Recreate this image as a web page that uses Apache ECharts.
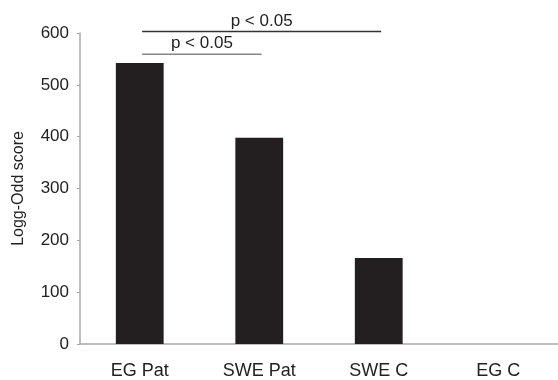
<!DOCTYPE html>
<html><head><meta charset="utf-8">
<script src="https://cdn.jsdelivr.net/npm/echarts@6/dist/echarts.min.js"></script>
<style>html,body{margin:0;padding:0;background:#fff}#c{width:558px;height:380px}</style>
</head><body><div id="c"></div>
<script>
const categories = ['EG Pat', 'SWE Pat', 'SWE C', 'EG C'];
const scores = [542, 398, 166, 0];
const yTicks = [0, 100, 200, 300, 400, 500, 600];
// significance brackets: [position in category units (0..4), value]
const bracketUpper = [[0.52, 603], [1.52, 603], [2.52, 603]];
const bracketLower = [[0.52, 559], [1.02, 559], [1.52, 559]];
const bracketLabel = 'p < 0.05';

const chart = echarts.init(document.getElementById('c'));
const font = 'Liberation Sans, Arial, sans-serif';
function bracket(data, color) {
  return {
    type: 'line', xAxisIndex: 1, data: data.map((d, i) => ({
      value: d,
      label: i === 1 ? {show: true, position: 'top', distance: 2, formatter: bracketLabel,
        color: '#222', fontSize: 17, fontFamily: font} : {show: false}
    })),
    symbol: 'circle', symbolSize: 0, showSymbol: true, clip: false, silent: true,
    itemStyle: {color: color},
    lineStyle: {color: color, width: 1.6}
  };
}
chart.setOption({
  animation: false,
  grid: {left: 80, right: -2, top: 33, bottom: 35},
  xAxis: [{
    type: 'category', data: categories,
    axisLine: {lineStyle: {color: '#a8a8a8', width: 1.5}},
    axisTick: {show: false},
    axisLabel: {color: '#222', fontSize: 18, fontFamily: font, margin: 18}
  }, {
    type: 'value', min: 0, max: 4, show: false
  }],
  yAxis: {
    type: 'value', min: 0, max: 600, interval: 100,
    name: 'Logg-Odd score', nameLocation: 'middle', nameGap: 53,
    nameTextStyle: {color: '#222', fontSize: 16, fontFamily: font},
    axisLine: {show: true, lineStyle: {color: '#a8a8a8', width: 1.5}},
    axisTick: {show: true, length: 3, lineStyle: {color: '#a8a8a8'}},
    splitLine: {show: false},
    axisLabel: {color: '#222', fontSize: 17, fontFamily: font, margin: 11,
      formatter: v => yTicks.includes(v) ? String(v) : ''}
  },
  series: [{
    type: 'bar', data: scores, barWidth: '40%',
    itemStyle: {color: '#231f20'}
  },
  bracket(bracketUpper, '#333'),
  bracket(bracketLower, '#888')]
});
</script></body></html>
